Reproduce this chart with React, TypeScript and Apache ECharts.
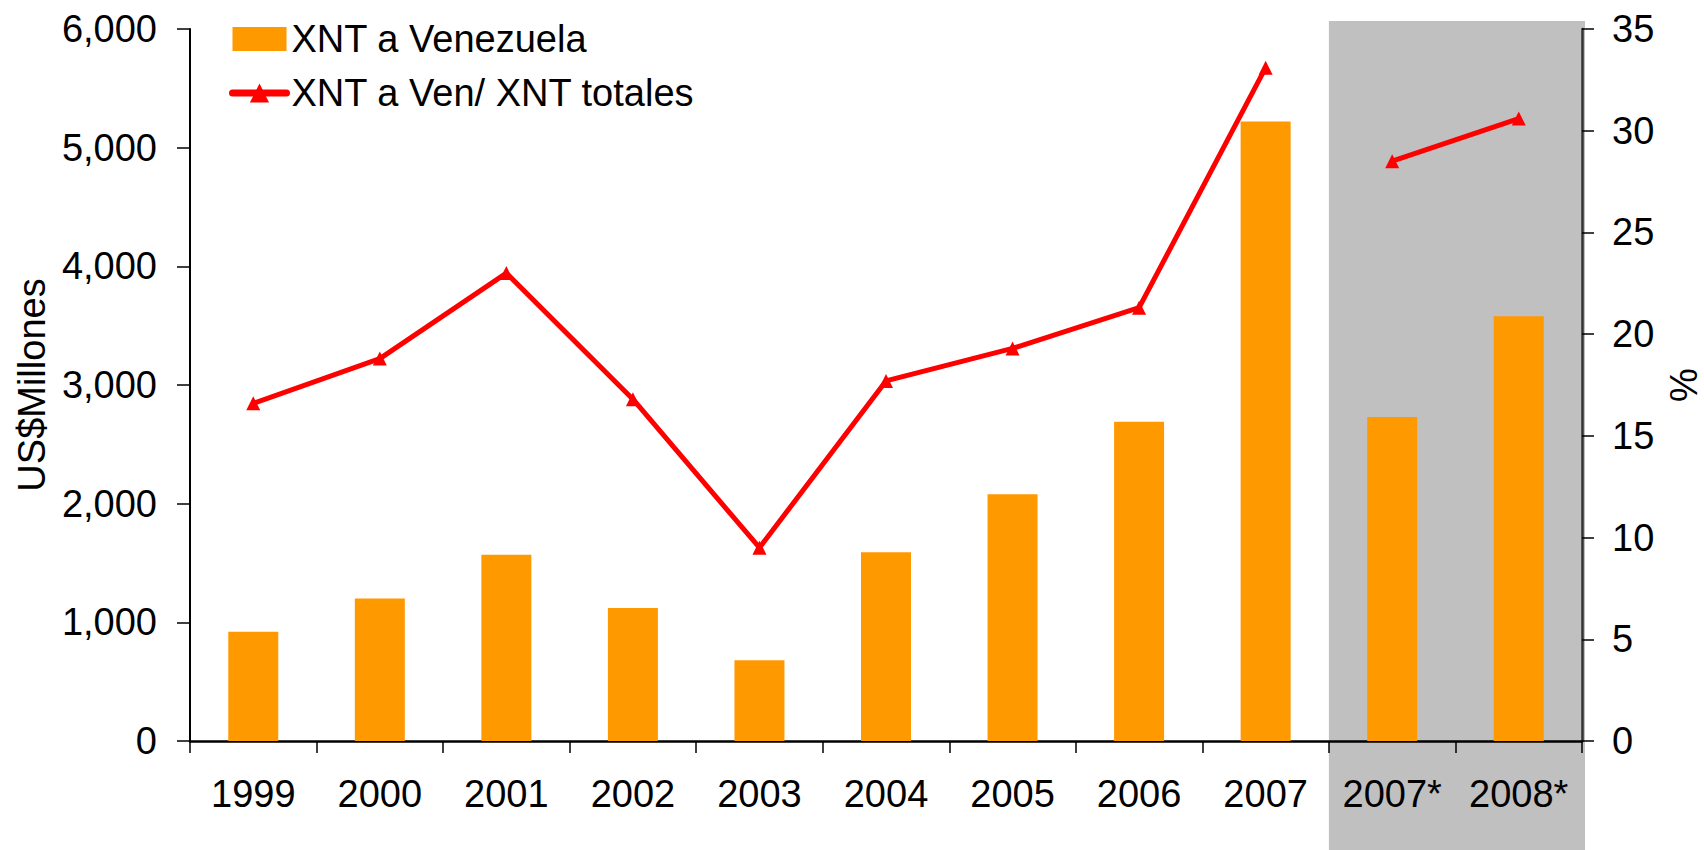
import React, { useEffect, useRef } from "react";
import * as echarts from "echarts";

const categories = ["1999", "2000", "2001", "2002", "2003", "2004", "2005", "2006", "2007", "2007*", "2008*"];
const exportsVen = [920, 1200, 1570, 1120, 680, 1590, 2080, 2690, 5220, 2730, 3580];
const shareVen = [16.6, 18.8, 23.0, 16.8, 9.5, 17.7, 19.3, 21.3, 33.1, 28.5, 30.6];
const leftTicks = { min: 0, max: 6000, interval: 1000 };
const rightTicks = { min: 0, max: 35, interval: 5 };
const barName = "XNT a Venezuela";
const lineName = "XNT a Ven/ XNT totales";
const splitIndex = 9; // first projected category

const FONT = "'Liberation Sans', Arial, Helvetica, sans-serif";

export default function App() {
  const ref = useRef<HTMLDivElement>(null);

  useEffect(() => {
    if (!ref.current) return;
    const chart = echarts.init(ref.current, null, { renderer: "svg" });

    const lineA = shareVen.map((v, i) => (i < splitIndex ? v : "-"));
    const lineB = shareVen.map((v, i) => (i >= splitIndex ? v : "-"));

    const lineSeries = (data: any[]) => ({
      name: lineName,
      type: "line",
      yAxisIndex: 1,
      data,
      symbol: "triangle",
      symbolSize: 14,
      connectNulls: false,
      lineStyle: { color: "#FF0000", width: 5 },
      itemStyle: { color: "#FF0000" },
      z: 5,
    });

    chart.setOption({
      animation: false,
      textStyle: { fontFamily: FONT },
      grid: {
        left: 190,
        right: 122,
        top: 29,
        bottom: 109,
        containLabel: false,
        outerBoundsMode: "none",
      },
      legend: {
        orient: "vertical",
        left: 224,
        top: 14,
        itemWidth: 54,
        itemHeight: 24,
        itemGap: 14,
        textStyle: { fontSize: 38, color: "#000", fontFamily: FONT, lineHeight: 40 },
        data: [
          { name: barName, icon: "rect" },
          { name: lineName, lineStyle: { width: 7, color: "#FF0000", cap: "round" } },
        ],
      },
      xAxis: {
        type: "category",
        data: categories,
        axisLine: { lineStyle: { color: "#000", width: 2.5 } },
        axisTick: { show: true, interval: 0, length: 12, lineStyle: { color: "#000", width: 1.5 } },
        axisLabel: { interval: 0, hideOverlap: false, fontSize: 38, color: "#000", margin: 34, fontFamily: FONT },
        splitLine: { show: false },
      },
      yAxis: [
        {
          type: "value",
          ...leftTicks,
          name: "US$Millones",
          nameLocation: "middle",
          nameGap: 123,
          nameTextStyle: { fontSize: 38, color: "#000", fontFamily: FONT },
          axisLine: { show: true, lineStyle: { color: "#000", width: 2 } },
          axisTick: { show: true, length: 13, lineStyle: { color: "#000", width: 1.5 } },
          axisLabel: {
            fontSize: 38,
            color: "#000",
            margin: 33,
            fontFamily: FONT,
            formatter: (v: number) => v.toLocaleString("en-US"),
          },
          splitLine: { show: false },
        },
        {
          type: "value",
          ...rightTicks,
          position: "right",
          name: "%",
          nameLocation: "middle",
          nameGap: 74,
          nameTextStyle: { fontSize: 38, color: "#000", fontFamily: FONT },
          axisLine: { show: true, lineStyle: { color: "#333", width: 2.5 } },
          axisTick: { show: true, length: 12, lineStyle: { color: "#000", width: 1.5 } },
          axisLabel: { fontSize: 38, color: "#000", margin: 30, fontFamily: FONT },
          splitLine: { show: false },
        },
      ],
      series: [
        {
          name: barName,
          type: "bar",
          data: exportsVen,
          barWidth: 50,
          itemStyle: { color: "#FF9900" },
          z: 2,
        },
        lineSeries(lineA),
        lineSeries(lineB),
      ],
    });

    const p9 = chart.convertToPixel({ xAxisIndex: 0 }, categories[splitIndex]) as number;
    const p10 = chart.convertToPixel({ xAxisIndex: 0 }, categories[categories.length - 1]) as number;
    const band = p10 - p9;
    const left = p9 - band / 2;
    const right = p10 + band / 2 + 3;

    chart.setOption({
      graphic: [
        {
          type: "rect",
          z: -1,
          silent: true,
          shape: { x: left, y: 21, width: right - left, height: 850 - 21 },
          style: { fill: "#C0C0C0" },
        },
      ],
    });

    return () => chart.dispose();
  }, []);

  return (
    <div
      ref={ref}
      style={{ position: "fixed", left: 0, top: 0, width: 1704, height: 850, background: "#fff" }}
    />
  );
}
